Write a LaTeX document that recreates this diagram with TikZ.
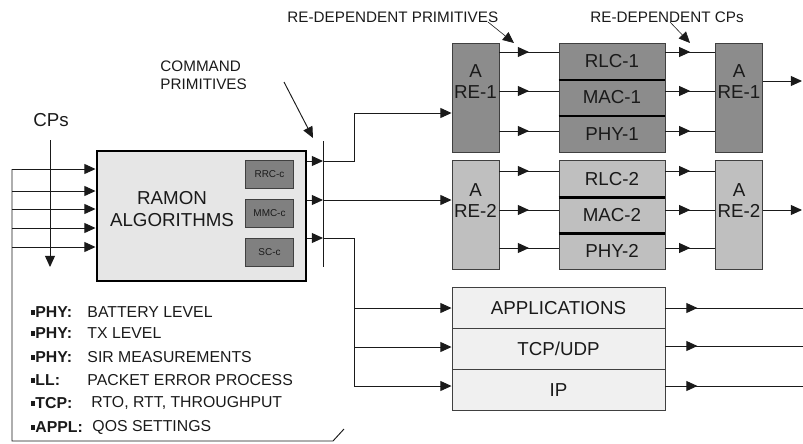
\documentclass[tikz,border=0pt]{standalone}
\usepackage{fontspec}
\setmainfont{Liberation Sans}
\usetikzlibrary{arrows.meta,decorations.markings}

\definecolor{ramonfill}{HTML}{E6E6E6}
\definecolor{ctrlfill}{HTML}{808080}
\definecolor{darkfill}{HTML}{8C8C8C}
\definecolor{lightfill}{HTML}{BFBFBF}
\definecolor{ipfill}{HTML}{F0F0F0}
\definecolor{edgegray}{HTML}{404040}
\definecolor{ink}{HTML}{1A1A1A}

\newcommand\sqbullet{\rule[0.3ex]{0.25em}{0.3em}}

\begin{document}
\begin{tikzpicture}[x=0.03cm,y=-0.03cm,
  >={Triangle[length=9.5pt,width=8.5pt]},
  line width=0.8pt, draw=ink, text=ink,
  big/.style={font=\fontsize{16}{18}\selectfont},
  lbl/.style={font=\fontsize{13}{16}\selectfont, inner sep=0pt},
  lst/.style={font=\fontsize{13.5}{16}\selectfont, inner sep=0pt, anchor=west},
  ctrlbox/.style={draw=edgegray, fill=ctrlfill, minimum width=1.44cm, minimum height=0.84cm,
    inner sep=0pt, font=\fontsize{8.5}{10}\selectfont},
  arebox/.style={draw=edgegray, fill=#1, minimum width=1.41cm, minimum height=3.27cm, inner sep=0pt},
  layer/.style={draw=edgegray, fill=#1, minimum width=3.18cm, minimum height=1.09cm, inner sep=0pt, big},
  iplayer/.style={draw=edgegray, fill=ipfill, minimum width=6.39cm, minimum height=1.23cm, inner sep=0pt, big},
  sep/.style={draw=black, line width=2pt},
  midarrow/.style={decoration={markings, mark=at position #1 with {\arrow{>}}}, postaction={decorate}},
  midarrow/.default=0.5]

\useasboundingbox (0,0) rectangle (803,443);

% RAMON block and its control entities
\node[draw=black, line width=2.5pt, fill=ramonfill, minimum width=6.27cm, minimum height=3.9cm,
  inner sep=0pt] (ramon) at (201.5,216) {};
\node[big, align=center] (ramontxt) at (172,209) {RAMON\\ALGORITHMS};
\node[ctrlbox] (rrc) at (269.5,174.5) {RRC-c};
\node[ctrlbox] (mmc) at (269.5,213) {MMC-c};
\node[ctrlbox] (scc) at (269.5,252.5) {SC-c};

% feedback loop and CPs into RAMON
\coordinate (fbtop) at (12,169);
\coordinate (fbbot) at (12,441);
\coordinate (fbend) at (333,441);
\draw (fbtop) -- (fbbot) -- (fbend) -- ++(11,-12);
\foreach \y in {169,191,209,228,247}
  \draw[->] (fbtop |- 0,\y) -- (ramon.west |- 0,\y);
\node[big, inner sep=0pt] (cps) at (51,120) {CPs};
\coordinate (cpstop) at (50,140);
\coordinate (cpsend) at (50,267);
\draw[->] (cpstop) -- (cpsend);

% command primitives bar
\coordinate (bartop) at (323,141);
\coordinate (barbot) at (323,267);
\draw (bartop) -- (barbot);
\foreach \y in {161,200,238}
  \draw[->] (ramon.east |- 0,\y) -- (bartop |- 0,\y);
\node[lbl, align=left, anchor=north west] (cmdtxt) at (160,60) {COMMAND\\PRIMITIVES};
\coordinate (cmdptr) at (284,82);
\draw[->] (cmdptr) -- (313,138);

% radio entity 1
\node[arebox=darkfill] (are1) at (475.5,97.5) {};
\node[big, align=center] at (475.5,82) {A\\RE-1};
\node[layer=darkfill] (rlc1) at (612,61.2) {RLC-1};
\node[layer=darkfill] (mac1) at (612,97.5) {MAC-1};
\node[layer=darkfill] (phy1) at (612,133.8) {PHY-1};
\draw[sep] (rlc1.south west) -- (rlc1.south east);
\draw[sep] (mac1.south west) -- (mac1.south east);
\node[arebox=darkfill] (are1r) at (739,97.5) {};
\node[big, align=center] at (739,82) {A\\RE-1};
\foreach \y in {52,91,131} {
  \draw[midarrow] (are1.east |- 0,\y) -- (rlc1.west |- 0,\y);
  \draw[midarrow] (rlc1.east |- 0,\y) -- (are1r.west |- 0,\y);
}

% radio entity 2
\node[arebox=lightfill] (are2) at (475.5,215) {};
\node[big, align=center] at (475.5,201) {A\\RE-2};
\node[layer=lightfill] (rlc2) at (612,179) {RLC-2};
\node[layer=lightfill] (mac2) at (612,215) {MAC-2};
\node[layer=lightfill] (phy2) at (612,251) {PHY-2};
\draw[sep] (rlc2.south west) -- (rlc2.south east);
\draw[sep] (mac2.south west) -- (mac2.south east);
\node[arebox=lightfill] (are2r) at (739,215) {};
\node[big, align=center] at (739,201) {A\\RE-2};
\foreach \y in {171,210,248} {
  \draw[midarrow] (are2.east |- 0,\y) -- (rlc2.west |- 0,\y);
  \draw[midarrow] (rlc2.east |- 0,\y) -- (are2r.west |- 0,\y);
}

% IP stack
\node[iplayer] (app) at (558.5,308) {APPLICATIONS};
\node[iplayer] (tcp) at (558.5,349) {TCP/UDP};
\node[iplayer] (ip) at (558.5,390) {IP};

% command primitives to the entities
\coordinate (upbend) at (354,113);
\coordinate (lowbend) at (354,386);
\draw[->] (bartop |- 0,161) -| (upbend) -- (are1.west |- upbend);
\draw[->] (bartop |- 0,200) -- (are2.west |- 0,200);
\draw (bartop |- 0,238) -| (lowbend);
\foreach \n/\y in {app/308,tcp/347,ip/386}
  \draw[->] (lowbend |- 0,\y) -- (\n.west |- 0,\y);

% outputs
\coordinate (out1) at (802,81);
\coordinate (out2) at (802,210);
\draw[->] (are1r.east |- out1) -- (out1);
\draw[->] (are2r.east |- out2) -- (out2);
\foreach \n/\y in {app/308,tcp/346,ip/386}
  \draw[midarrow=0.96cm] (\n.east |- 0,\y) -- (803,\y);

% RE-dependent labels
\node[lbl, anchor=west] (redprim) at (287,17) {RE-DEPENDENT PRIMITIVES};
\node[lbl, anchor=west] (redcps) at (590,17) {RE-DEPENDENT CPs};
\draw[->, line width=0.5pt] (488,22) -- (514,43);
\draw[->, line width=0.5pt] (670,22) -- (690,43);

% measurement list
\foreach \y/\k/\t/\dx in {312/PHY:/{BATTERY LEVEL}/87, 333/PHY:/{TX LEVEL}/87,
    357/PHY:/{SIR MEASUREMENTS}/87, 380/LL:/{PACKET ERROR PROCESS}/87,
    403/TCP:/{RTO, RTT, THROUGHPUT}/91, 427/APPL:/{QOS SETTINGS}/92} {
  \node[lst] at (31,\y) {\sqbullet\textbf{\k}};
  \node[lst] at (\dx,\y) {\t};
}
\end{tikzpicture}
\end{document}
